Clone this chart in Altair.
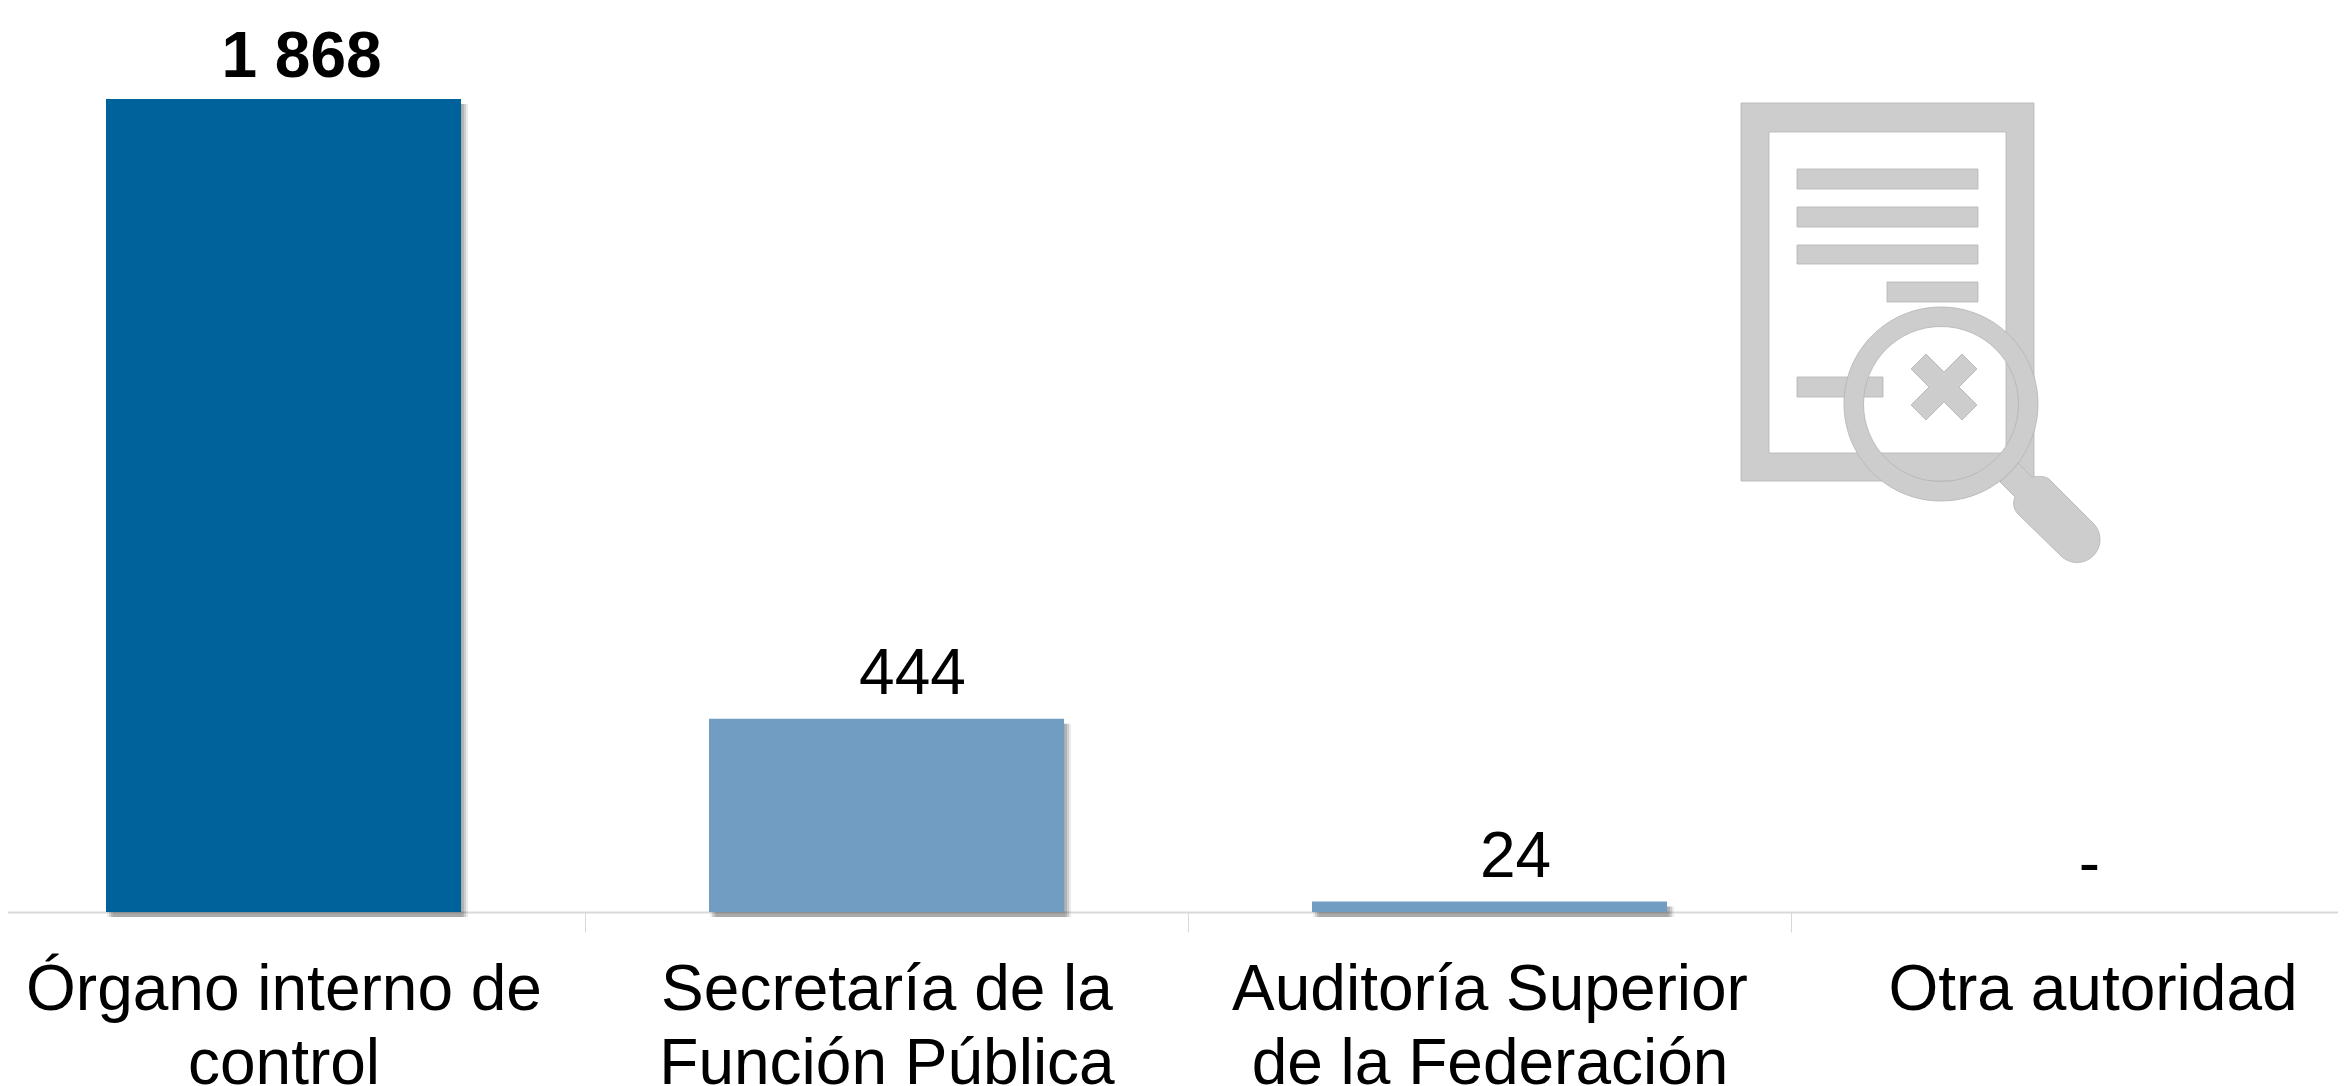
import altair as alt
import pandas as pd

categories = ["Órgano interno de\ncontrol", "Secretaría de la\nFunción Pública",
              "Auditoría Superior\nde la Federación", "Otra autoridad"]
values = [1868, 444, 24, 0]
value_labels = ["1 868", "444", "24", "-"]
bar_colors = ["#00629B", "#719DC3", "#719DC3", "#719DC3"]

# Decorative icon outlines (document with magnifying glass)
icon_paths = [
    # document frame
    "M1733 95H2026V473H1733ZM1761 124V445H1998V124Z",
    # text lines
    "M1789 161H1970V181H1789Z",
    "M1789 199H1970V219H1789Z",
    "M1789 237H1970V256H1789Z",
    "M1879 274H1970V294H1879Z",
    "M1789 369H1875V389H1789Z",
    # cross
    "M1936 364L1954 346L1969 361L1951 379L1969 397L1954 412L1936 394L1918 412L1903 397L1921 379L1903 361L1918 346Z",
    # lens ring and handle
    "M1933 299A97 97 0 1 1 1933 493A97 97 0 1 1 1933 299Z"
    "M1933 318.500A77.500 77.500 0 1 0 1933 473.500A77.500 77.500 0 1 0 1933 318.500Z",
    "M2010 455L2024 469C2031 468 2037 468 2041 471L2086 516A23 23 0 0 1 2052 547L2011 507"
    "C2006 502 2004 496 2007 489L1992 474C1999 468 2005 462 2010 455Z",
]

df = pd.DataFrame({"cat": categories, "val": values, "label": value_labels})

FONT = "Liberation Sans"
x_axis = alt.Axis(
    title=None, labelExpr="split(datum.label, '\\n')", labelFont=FONT, labelFontSize=64,
    labelColor="#000000", labelAngle=0, labelLimit=1000, labelOverlap=False, labelFlush=False,
    labelBound=False, labelLineHeight=74, labelPadding=77, labelBaseline="alphabetic",
    tickBand="extent", tickColor="#D9D9D9", tickSize=20, tickWidth=1,
    domainColor="#D9D9D9", domainWidth=2, grid=False,
)
x = alt.X("cat:N", sort=categories, axis=x_axis,
          scale=alt.Scale(range=[-26, 2386], paddingInner=0, paddingOuter=0, round=False))
y = alt.Y("val:Q", axis=None, scale=alt.Scale(domain=[0, 2077], nice=False, zero=True))
color = alt.Color("cat:N", sort=categories, legend=None,
                  scale=alt.Scale(domain=categories, range=bar_colors))

base = alt.Chart(df)
BAR_W = 355
shadows = [
    base.transform_filter("datum.val > 0").mark_bar(
        size=BAR_W, color="#000000", opacity=op, xOffset=o, yOffset=5, y2Offset=b
    ).encode(x=x, y=y)
    for o, b, op in ((1, 3, 0.06), (3, 3, 0.12), (5, 2, 0.12), (7, 1, 0.08))
]
bars = base.mark_bar(size=BAR_W).encode(x=x, y=y, color=color)

def text_layer(cond, dx, dy, weight):
    return base.transform_filter(cond).mark_text(
        font=FONT, fontSize=64, fontWeight=weight, color="#000000",
        baseline="alphabetic", align="center", dx=dx, dy=dy,
    ).encode(x=x, y=y, text="label:N")

labels = [
    text_layer("datum.val > 1000", 18, -22, "bold"),
    text_layer("datum.val > 0 && datum.val < 1000", 26, -25, "normal"),
    text_layer("datum.val == 0", -3, -27, "normal"),
]

icon_df = pd.DataFrame({"i": [0]})
icons = [
    alt.Chart(icon_df).mark_point(
        shape=p, size=4, filled=True, fill="#CDCDCD", stroke="#B4B4B4",
        strokeWidth=0.8, opacity=1,
    ).encode(x=alt.value(0), y=alt.value(0))
    for p in icon_paths
]

chart = alt.layer(*shadows, bars, *labels, *icons).properties(
    width=2330, height=904,
    padding={"left": 0, "right": 0, "top": 0, "bottom": 174},
    autosize=alt.AutoSizeParams(type="none"),
    background="#FFFFFF",
).configure_view(stroke=None)

chart.save("out.html", embed_options={"renderer": "svg", "actions": False})
